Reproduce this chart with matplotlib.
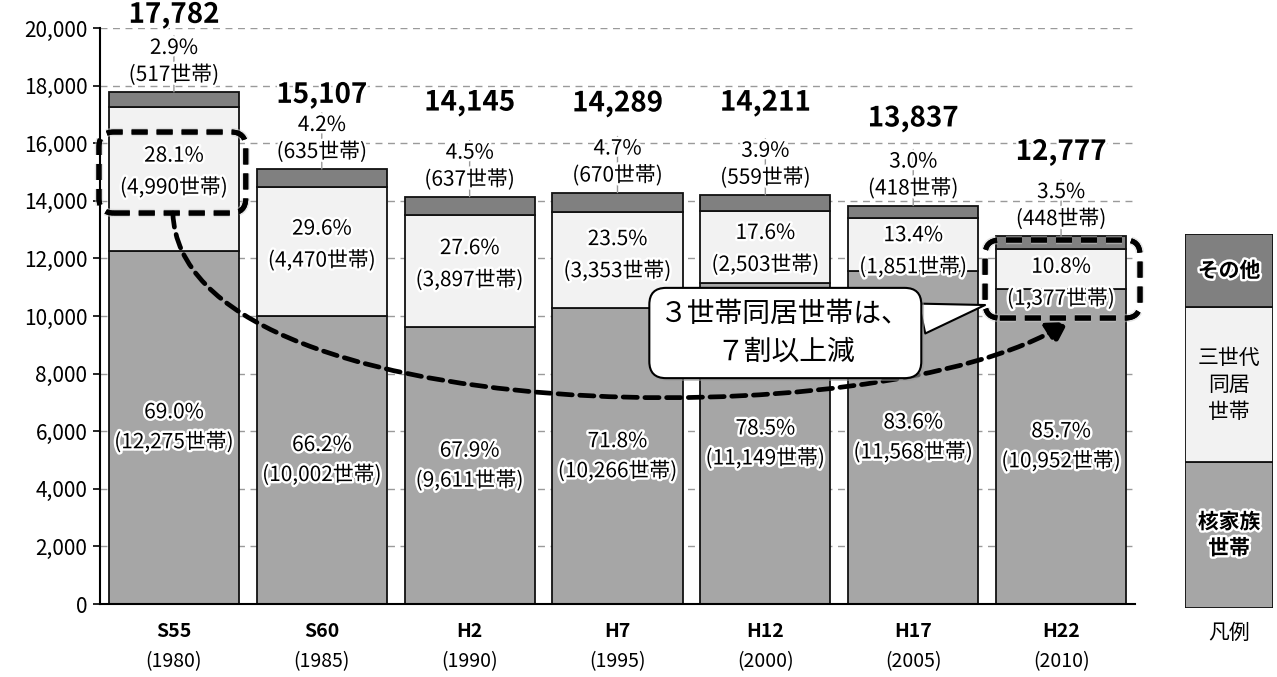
import matplotlib

matplotlib.use("Agg")

import matplotlib.pyplot as plt
import matplotlib.patheffects as pe
from matplotlib.patches import FancyBboxPatch, FancyArrowPatch, Rectangle
from matplotlib.path import Path
import numpy as np

plt.rcParams["font.family"] = ["Noto Sans CJK JP", "DejaVu Sans"]

# data
eras = ["S55", "S60", "H2", "H7", "H12", "H17", "H22"]
years = ["(1980)", "(1985)", "(1990)", "(1995)", "(2000)", "(2005)", "(2010)"]
nuclear = [12275, 10002, 9611, 10266, 11149, 11568, 10952]
three_gen = [4990, 4470, 3897, 3353, 2503, 1851, 1377]
other = [517, 635, 637, 670, 559, 418, 448]
nuclear_pct = [69.0, 66.2, 67.9, 71.8, 78.5, 83.6, 85.7]
three_gen_pct = [28.1, 29.6, 27.6, 23.5, 17.6, 13.4, 10.8]
other_pct = [2.9, 4.2, 4.5, 4.7, 3.9, 3.0, 3.5]
legend_labels = ["その他", "三世代\n同居\n世帯", "核家族\n世帯"]

C_NUC = "#a6a6a6"
C_THREE = "#f2f2f2"
C_OTHER = "#808080"

nuclear = np.array(nuclear)
three_gen = np.array(three_gen)
other = np.array(other)
totals = nuclear + three_gen + other
x = np.arange(len(eras))

fig = plt.figure(figsize=(12.77, 6.77), dpi=100)
ax = fig.add_axes([0.0783, 0.1078, 0.8105, 0.8508])

glow = [pe.withStroke(linewidth=3.5, foreground="white")]
shadow = [pe.SimplePatchShadow(offset=(2, -2), shadow_rgbFace="0.6", alpha=0.6), pe.Normal()]

w = 0.88
kw = dict(width=w, edgecolor="#111111", linewidth=1.3, zorder=2)
ax.bar(x, nuclear, color=C_NUC, **kw)
ax.bar(x, three_gen, bottom=nuclear, color=C_THREE, **kw)
ax.bar(x, other, bottom=nuclear + three_gen, color=C_OTHER, **kw)

ax.set_xlim(-0.5, len(eras) - 0.5)
ax.set_ylim(0, 20000)
ax.set_yticks(np.arange(0, 20001, 2000))
ax.set_yticklabels([f"{v:,}" for v in range(0, 20001, 2000)], fontsize=15)
ax.yaxis.grid(True, linestyle=(0, (5, 4)), color="#9a9a9a", linewidth=1.0, zorder=0)
ax.set_axisbelow(True)
for s in ["top", "right"]:
    ax.spines[s].set_visible(False)
ax.spines["left"].set_linewidth(1.5)
ax.spines["bottom"].set_linewidth(1.5)
ax.tick_params(axis="y", length=5, width=1.2, pad=4)
ax.set_xticks(x)
ax.set_xticklabels(eras, fontsize=14, fontweight="bold")
ax.tick_params(axis="x", length=0, pad=13)
for i, yr in enumerate(years):
    ax.annotate(yr, xy=(x[i], 0), xytext=(0, -58), textcoords="offset pixels",
                ha="center", va="center", fontsize=14, annotation_clip=False)

# segment labels
three_shift = [7, 7, 7, 5, -2, -7, -14]
for i in range(len(eras)):
    yc = nuclear[i] / 2
    ax.annotate(f"{nuclear_pct[i]:.1f}%", xy=(x[i], yc), xytext=(0, 15), textcoords="offset pixels",
                ha="center", va="center", fontsize=15, path_effects=glow, zorder=5)
    ax.annotate(f"({nuclear[i]:,}世帯)", xy=(x[i], yc), xytext=(0, -15), textcoords="offset pixels",
                ha="center", va="center", fontsize=15, path_effects=glow, zorder=5)
    yc = nuclear[i] + three_gen[i] / 2
    s = three_shift[i]
    ax.annotate(f"{three_gen_pct[i]:.1f}%", xy=(x[i], yc), xytext=(0, s + 16), textcoords="offset pixels",
                ha="center", va="center", fontsize=15, path_effects=glow, zorder=5)
    ax.annotate(f"({three_gen[i]:,}世帯)", xy=(x[i], yc), xytext=(0, s - 16), textcoords="offset pixels",
                ha="center", va="center", fontsize=15, path_effects=glow, zorder=5)

# top labels
total_off = [77, 74, 94, 89, 92, 87, 84]
for i in range(len(eras)):
    ax.annotate("", xy=(x[i], totals[i]), xytext=(0, 56), textcoords="offset pixels",
                arrowprops=dict(arrowstyle="-", color="#999999", lw=1.0,
                                shrinkA=0, shrinkB=0), zorder=4)
    ax.annotate(f"({other[i]}世帯)", xy=(x[i], totals[i]), xytext=(0, 17), textcoords="offset pixels",
                ha="center", va="center", fontsize=15, path_effects=glow, zorder=5)
    ax.annotate(f"{other_pct[i]:.1f}%", xy=(x[i], totals[i]), xytext=(0, 44), textcoords="offset pixels",
                ha="center", va="center", fontsize=15, path_effects=glow, zorder=5)
    ax.annotate(f"{totals[i]:,}", xy=(x[i], totals[i]), xytext=(0, total_off[i]), textcoords="offset pixels",
                ha="center", va="center", fontsize=20, fontweight="bold", path_effects=glow,
                zorder=5, annotation_clip=False)

# dashed highlight boxes
aspect = 5140
for (bx, by, bw, bh) in [(-0.507, 13576, 0.993, 2813), (5.486, 9930, 1.048, 2709)]:
    box = FancyBboxPatch((bx, by), bw, bh, boxstyle="round,pad=0,rounding_size=0.1",
                         mutation_aspect=aspect, fill=False, ec="black", lw=3.6,
                         ls=(0, (3.2, 1.8)), zorder=6, clip_on=False,
                         path_effects=[pe.withStroke(linewidth=6, foreground="#cccccc", alpha=0.5), pe.Normal()])
    ax.add_patch(box)

# curved dashed arrow
verts = [(-0.007, 13576), (0.047, 6042), (4.777, 5694), (6.047, 9792)]
codes = [Path.MOVETO, Path.CURVE4, Path.CURVE4, Path.CURVE4]
arrow = FancyArrowPatch(path=Path(verts, codes), arrowstyle="-|>,head_length=0.6,head_width=0.35",
                        mutation_scale=20, color="black", lw=3.4, ls=(0, (3.0, 1.6)), zorder=6)
ax.add_patch(arrow)

# callout
ax.annotate("３世帯同居世帯は、\n７割以上減", xy=(5.486, 10382), xytext=(4.135, 9410),
            ha="center", va="center", fontsize=20, linespacing=1.35, zorder=8,
            bbox=dict(boxstyle="round,pad=0.4,rounding_size=0.6", fc="white", ec="black", lw=1.5,
                      path_effects=shadow),
            arrowprops=dict(arrowstyle="wedge,tail_width=1.1,shrink_factor=0.5", fc="white",
                            ec="black", lw=1.5, relpos=(0.93, 0.62), shrinkA=0, shrinkB=0))

# legend panel
lax = fig.add_axes([0.928, 0.102, 0.069, 0.552])
lax.set_xlim(0, 1)
lax.set_ylim(0, 374)
seg = [(0, 146, C_NUC), (146, 155, C_THREE), (301, 73, C_OTHER)]
for b, h, c in seg:
    lax.add_patch(Rectangle((0, b), 1, h, fc=c, ec="#111111", lw=1.3))
lax.text(0.5, 301 + 73 / 2, legend_labels[0], ha="center", va="center", fontsize=15,
         fontweight="bold", path_effects=glow)
lax.text(0.5, 146 + 155 / 2, legend_labels[1], ha="center", va="center", fontsize=15,
         linespacing=1.3)
lax.text(0.5, 146 / 2, legend_labels[2], ha="center", va="center", fontsize=15,
         fontweight="bold", linespacing=1.3, path_effects=glow)
lax.text(0.5, -25, "凡例", ha="center", va="center", fontsize=15)
lax.axis("off")

fig.savefig("out.png", dpi=100)
